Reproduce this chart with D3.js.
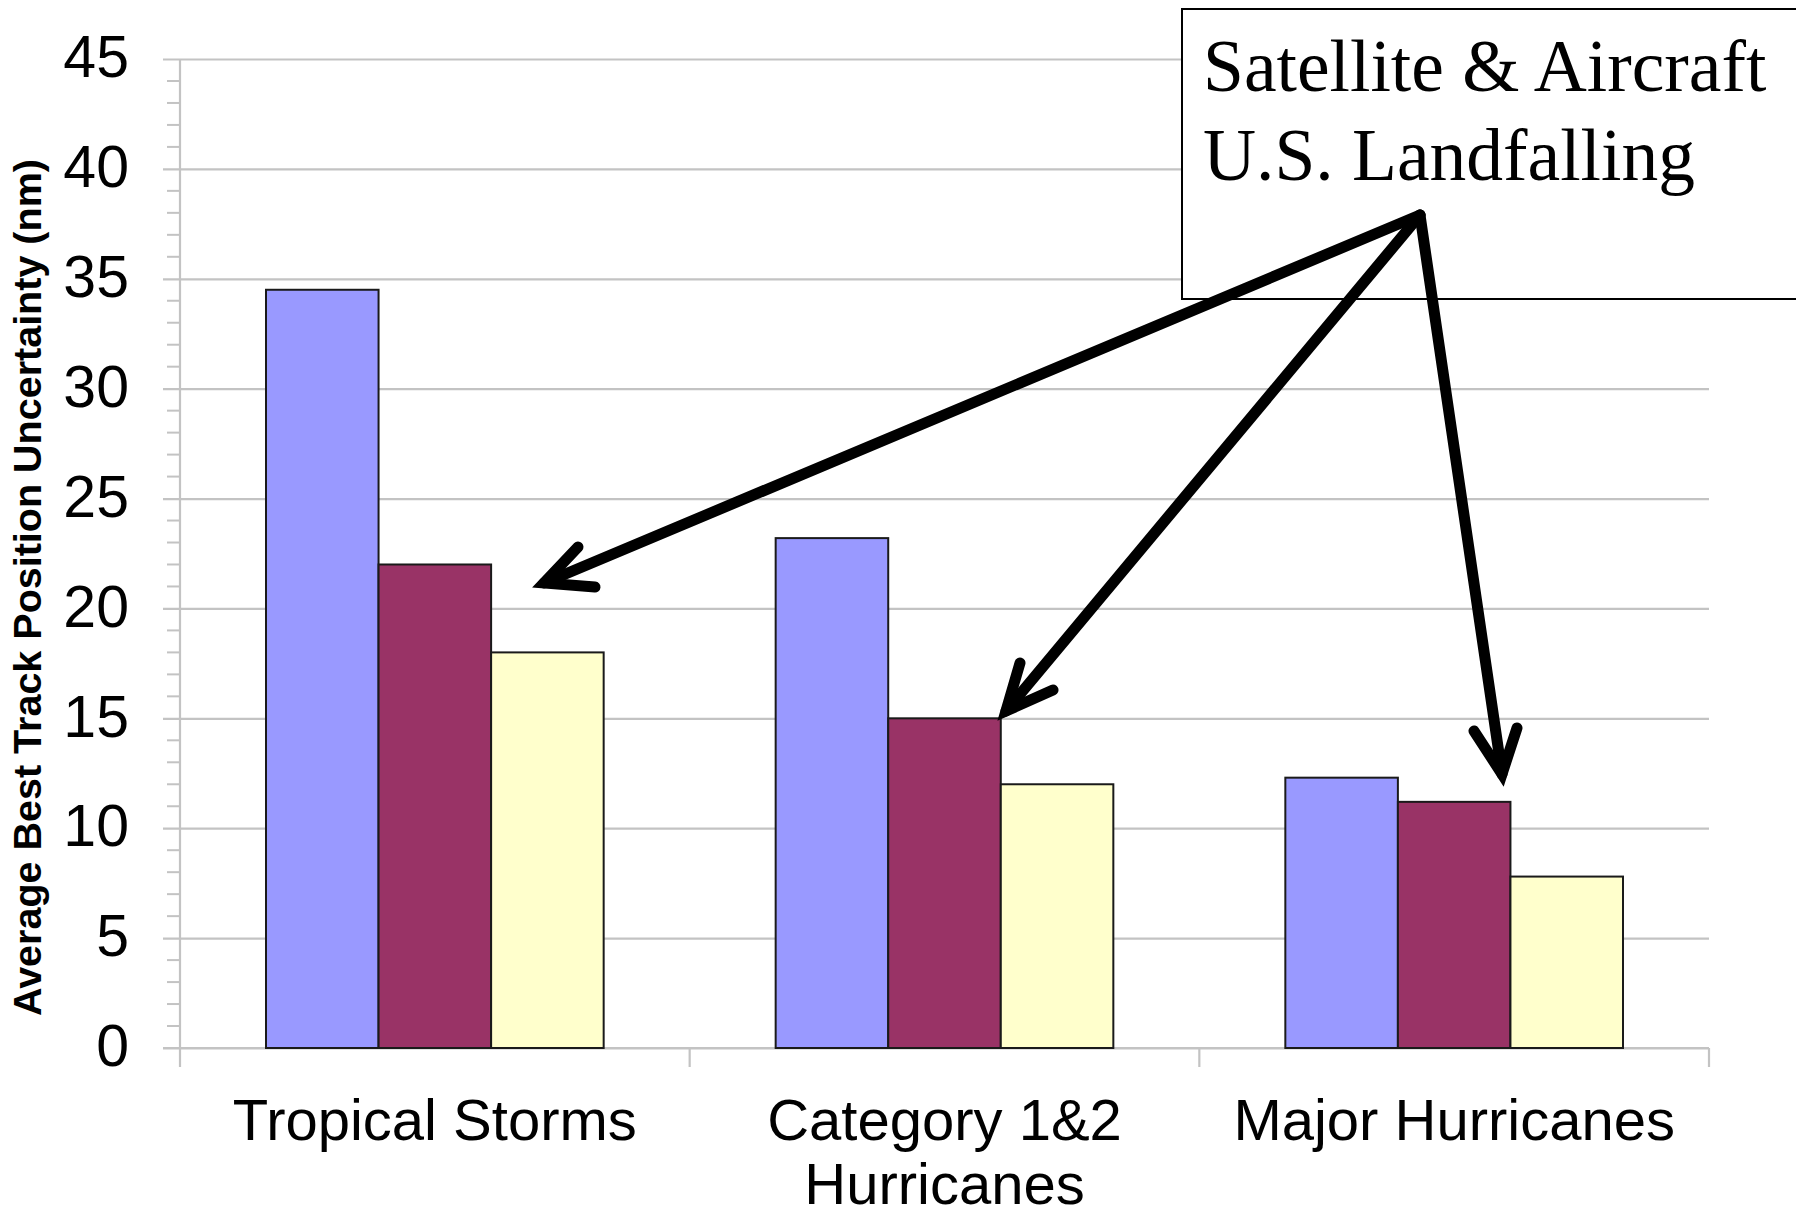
<!DOCTYPE html>
<html>
<head>
<meta charset="utf-8">
<script src="https://cdn.jsdelivr.net/npm/d3@7"></script>
<style>
  html, body { margin: 0; padding: 0; background: #fff; }
  svg { display: block; }
</style>
</head>
<body>
<svg id="chart" width="1796" height="1214"></svg>
<script>
// Average best-track position uncertainty (nautical miles) by storm class
const categories = ["Tropical Storms", "Category 1&2\nHurricanes", "Major Hurricanes"];
const seriesKeys = ["Satellite only", "Satellite & Aircraft", "U.S. Landfalling"];
const seriesSatellite = [34.5, 23.2, 12.3];
const seriesAircraft  = [22.0, 15.0, 11.2];
const seriesLandfall  = [18.0, 12.0, 7.8];
const yTicks = [0, 5, 10, 15, 20, 25, 30, 35, 40, 45];
const yTitle = "Average Best Track Position Uncertainty (nm)";
const noteLines = ["Satellite & Aircraft", "U.S. Landfalling"];

const seriesValues = [seriesSatellite, seriesAircraft, seriesLandfall];
const colors = ["#9999FF", "#993366", "#FFFFCC"];

const svg = d3.select("#chart");
const plot = { left: 180, right: 1709, top: 59, bottom: 1048 };
const grid = "#c3c3c3";

const y = d3.scaleLinear().domain([0, 45]).range([plot.bottom, plot.top]);
const x0 = d3.scaleBand().domain(d3.range(categories.length)).range([plot.left, plot.right]).padding(0);
const bw = x0.bandwidth();
const x1 = d3.scaleBand().domain(d3.range(seriesKeys.length)).range([86, bw - 86]).padding(0);

// Horizontal gridlines with major ticks
const yAxis = d3.axisLeft(y).tickValues(yTicks).tickSize(-(plot.right - plot.left)).tickFormat("");
svg.append("g")
  .attr("transform", `translate(${plot.left},0)`)
  .call(yAxis)
  .call(g => g.select(".domain").remove())
  .call(g => g.selectAll(".tick line")
    .attr("x1", -17)
    .attr("stroke", grid).attr("stroke-width", 2.2));

// Minor ticks on the value axis, one per unit
const minor = d3.range(0, 46).filter(v => v % 5 !== 0);
svg.append("g").selectAll("line").data(minor).join("line")
  .attr("x1", plot.left - 13).attr("x2", plot.left)
  .attr("y1", d => y(d)).attr("y2", d => y(d))
  .attr("stroke", grid).attr("stroke-width", 2);

// Value axis line
svg.append("line")
  .attr("x1", plot.left).attr("x2", plot.left)
  .attr("y1", plot.top).attr("y2", plot.bottom + 19)
  .attr("stroke", grid).attr("stroke-width", 2.2);

// Category axis line and boundary ticks
svg.append("line")
  .attr("x1", plot.left - 17).attr("x2", plot.right)
  .attr("y1", plot.bottom).attr("y2", plot.bottom)
  .attr("stroke", grid).attr("stroke-width", 2.2);
svg.append("g").selectAll("line").data(d3.range(1, categories.length + 1)).join("line")
  .attr("x1", i => x0(0) + i * bw).attr("x2", i => x0(0) + i * bw)
  .attr("y1", plot.bottom).attr("y2", plot.bottom + 19)
  .attr("stroke", grid).attr("stroke-width", 2.2);

// Tick labels
svg.append("g").selectAll("text").data(yTicks).join("text")
  .attr("x", 129).attr("y", d => y(d) - 3)
  .attr("dy", "0.36em")
  .attr("text-anchor", "end")
  .attr("font-family", "Liberation Sans, Arial, sans-serif")
  .attr("font-size", 59)
  .attr("fill", "#000")
  .text(d => d);

// Bars
const groups = svg.append("g").selectAll("g").data(categories).join("g")
  .attr("transform", (d, i) => `translate(${x0(i)},0)`);
groups.selectAll("rect")
  .data((d, i) => seriesValues.map((s, k) => ({ k, v: s[i] })))
  .join("rect")
  .attr("x", d => x1(d.k))
  .attr("width", x1.bandwidth())
  .attr("y", d => y(d.v))
  .attr("height", d => y(0) - y(d.v))
  .attr("fill", d => colors[d.k])
  .attr("stroke", "#1a1a1a")
  .attr("stroke-width", 2);

// Category labels (may wrap onto two lines)
const catLabels = svg.append("g").selectAll("text").data(categories).join("text")
  .attr("x", (d, i) => x0(i) + bw / 2)
  .attr("y", 1140)
  .attr("text-anchor", "middle")
  .attr("font-family", "Liberation Sans, Arial, sans-serif")
  .attr("font-size", 58)
  .attr("fill", "#000");
catLabels.each(function(d, i) {
  const t = d3.select(this);
  d.split("\n").forEach((line, j) => {
    t.append("tspan")
      .attr("x", x0(i) + bw / 2)
      .attr("dy", j === 0 ? 0 : 64)
      .text(line);
  });
});

// Value axis title
svg.append("text")
  .attr("transform", `translate(41,${(plot.top + plot.bottom) / 2 + 34}) rotate(-90)`)
  .attr("text-anchor", "middle")
  .attr("font-family", "Liberation Sans, Arial, sans-serif")
  .attr("font-weight", "bold")
  .attr("font-size", 39.5)
  .attr("fill", "#000")
  .text(yTitle);

// Annotation box
svg.append("rect")
  .attr("x", 1182).attr("y", 9)
  .attr("width", 700).attr("height", 290)
  .attr("fill", "#fff")
  .attr("stroke", "#000").attr("stroke-width", 2);
svg.append("g").selectAll("text").data(noteLines).join("text")
  .attr("x", 1203)
  .attr("y", (d, i) => 91 + i * 89)
  .attr("font-family", "Liberation Serif, 'Times New Roman', serif")
  .attr("font-size", 73.5)
  .attr("fill", "#000")
  .text(d => d);

// Arrows from the note to each bar group
const origin = [1420, 215];
const arrows = [
  { tip: [544, 583], arms: [[578, 547], [595, 587]] },
  { tip: [1006, 711], arms: [[1020, 663], [1053, 690]] },
  { tip: [1502, 774], arms: [[1474, 731], [1517, 728]] }
];
const arrowG = svg.append("g")
  .attr("fill", "none").attr("stroke", "#000")
  .attr("stroke-width", 11).attr("stroke-linecap", "round");
arrowG.selectAll("line.shaft").data(arrows).join("line")
  .attr("class", "shaft")
  .attr("x1", origin[0]).attr("y1", origin[1])
  .attr("x2", d => d.tip[0]).attr("y2", d => d.tip[1]);
arrowG.selectAll("path.head").data(arrows).join("path")
  .attr("class", "head")
  .attr("stroke-linejoin", "miter")
  .attr("stroke-miterlimit", 10)
  .attr("d", d => d3.line()([d.arms[0], d.tip, d.arms[1]]));
</script>
</body>
</html>
